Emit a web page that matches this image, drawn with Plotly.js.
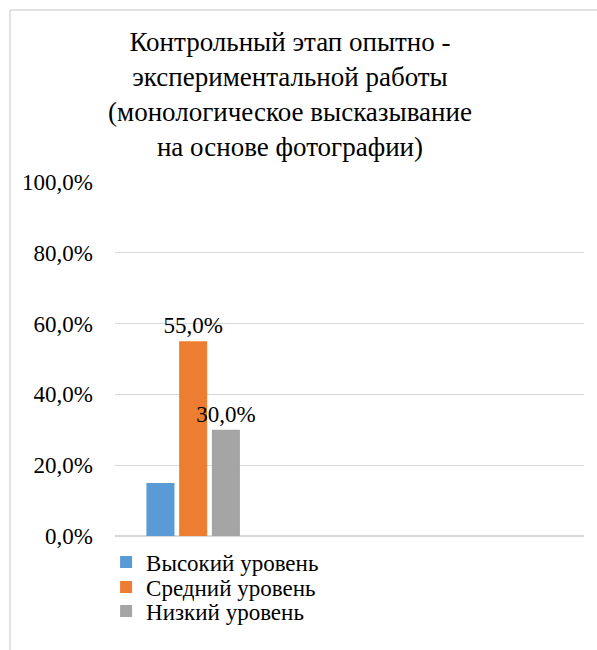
<!DOCTYPE html>
<html>
<head>
<meta charset="utf-8">
<script src="https://cdn.plot.ly/plotly-3.0.1.min.js"></script>
<style>
  html, body { margin: 0; padding: 0; background: #fff; }
  #wrap { position: relative; width: 597px; height: 650px; overflow: hidden; }
  #warm { position: absolute; left: 0; top: 0; z-index: 0; color: #000; font-family: 'Liberation Serif'; font-size: 23px; line-height: 1.2; }
  #chart { position: absolute; left: 0; top: 0; z-index: 1; width: 597px; height: 650px; }
  #chart text { font-family: 'Liberation Serif', 'Times New Roman', serif !important; }
</style>
</head>
<body>
<div id="wrap">
  <div id="warm">Контрольный этап опытно - экспериментальной работы 100,0% 55,0% Высокий уровень Средний уровень Низкий уровень</div>
  <div id="chart"></div>
</div>
<script>
const categories = ['Контрольный этап'];
const seriesNames = ['Высокий уровень', 'Средний уровень', 'Низкий уровень'];
const seriesValues = [[0.15], [0.55], [0.30]];
const seriesLabels = [[''], ['55,0%'], ['30,0%']];
const seriesColors = ['#5b9bd5', '#ed7d31', '#a5a5a5'];
const yTickValues = [0, 0.2, 0.4, 0.6, 0.8, 1.0];

const FONT = 'Liberation Serif';
const legendIds = ['legend', 'legend2', 'legend3'];
const legendRowsPx = [562, 587, 611];

const traces = seriesNames.map((name, i) => ({
  type: 'bar',
  name: name,
  x: categories,
  y: seriesValues[i],
  text: seriesLabels[i],
  textposition: 'outside',
  constraintext: 'none',
  cliponaxis: false,
  textfont: { family: FONT, size: 23, color: '#000' },
  marker: { color: seriesColors[i] },
  legend: legendIds[i],
  hoverinfo: 'skip'
}));

const layout = {
  width: 597,
  height: 650,
  separators: ', ',
  paper_bgcolor: '#fff',
  plot_bgcolor: 'rgba(0,0,0,0)',
  font: { family: FONT, size: 23, color: '#000' },
  margin: { l: 115, r: 13, t: 182, b: 114, autoexpand: false },
  title: {
    text: 'Контрольный этап опытно -<br>экспериментальной работы<br>(монологическое высказывание<br>на основе фотографии)',
    font: { family: FONT, size: 27, color: '#000' },
    x: 290 / 597, xanchor: 'center', xref: 'container',
    y: 1 - 51 / 650, yanchor: 'top', yref: 'container'
  },
  barmode: 'group',
  bargap: 0.372,
  bargroupgap: 0.143,
  xaxis: {
    type: 'category',
    range: [-0.5, 2.5],
    showticklabels: false,
    showgrid: false,
    zeroline: false,
    showline: false,
    ticks: ''
  },
  yaxis: {
    range: [0, 1],
    tickvals: yTickValues,
    tickformat: '.1%',
    showgrid: true,
    gridcolor: '#d9d9d9',
    gridwidth: 1.3,
    zeroline: true,
    zerolinecolor: '#d9d9d9',
    zerolinewidth: 1.3,
    showline: false,
    ticks: '',
    ticklabelstandoff: 21,
    tickfont: { family: FONT, size: 23, color: '#000' }
  },
  shapes: [
    { type: 'line', xref: 'paper', yref: 'paper', x0: (10 - 115) / 469, x1: (10 - 115) / 469, y0: (536 - 10) / 354, y1: (536 - 660) / 354, line: { color: '#d9d9d9', width: 1.5 } },
    { type: 'line', xref: 'paper', yref: 'paper', x0: (10 - 115) / 469, x1: (600 - 115) / 469, y0: (536 - 10) / 354, y1: (536 - 10) / 354, line: { color: '#d9d9d9', width: 1.5 } }
  ],
  showlegend: true
};

legendIds.forEach((id, i) => {
  layout[id] = {
    orientation: 'v',
    x: -0.019, xanchor: 'left',
    y: (536 - legendRowsPx[i]) / 354, yanchor: 'middle',
    font: { family: FONT, size: 23, color: '#000' },
    itemwidth: 30,
    bgcolor: 'rgba(0,0,0,0)'
  };
});

const config = { staticPlot: true, displayModeBar: false };
Plotly.newPlot('chart', traces, layout, config);
if (document.fonts && document.fonts.load) {
  document.fonts.load('23px "Liberation Serif"').then(() => Plotly.newPlot('chart', traces, layout, config));
}
</script>
</body>
</html>
